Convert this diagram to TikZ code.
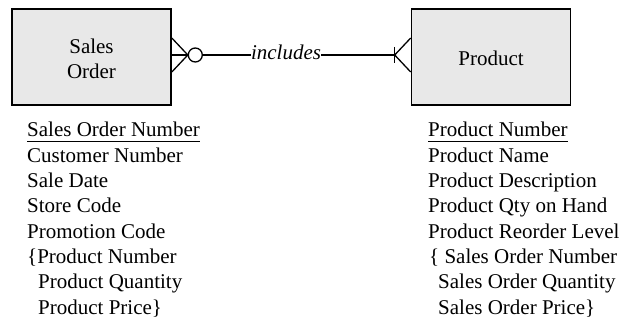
\documentclass[tikz,border=0pt]{standalone}
\usepackage{fontspec}
\setmainfont{Liberation Serif}
\usetikzlibrary{calc}
\begin{document}
\begin{tikzpicture}[x=1pt,y=1pt,
  entity/.style={draw=black,line width=1.6pt,fill=black!9,minimum width=159pt,minimum height=96pt,inner sep=0pt},
  etext/.style={inner sep=0pt,align=center,font=\fontsize{21}{25}\selectfont},
  attr/.style={anchor=base west,inner sep=0pt,font=\fontsize{21}{25.3}\selectfont},
  rel/.style={line width=1.3pt},
  lbl/.style={inner sep=0pt,text height=9pt,text depth=0pt,font=\fontsize{21}{25}\selectfont\itshape}]
\useasboundingbox (0,0) rectangle (623,-320);
% entities
\node[entity] (so) at (91.5,-57) {};
\node[etext] (sot) at ([yshift=-2pt]so.center) {Sales\\Order};
\node[entity] (pr) at (491,-57) {};
\node[etext] (prt) at ([yshift=-1pt]pr.center) {Product};
% relationship label
\node[lbl] (inc) at (286,-55) {includes};
% Sales Order end: crow's foot + zero
\coordinate (s0) at (so.east |- inc.center);
\coordinate (sT) at ($(so.east |- inc.center)+(0,17)$);
\coordinate (sB) at ($(so.east |- inc.center)+(0,-17)$);
\coordinate (sA) at ($(s0)+(16,0)$);
\node[draw,circle,line width=1.3pt,minimum size=14pt,inner sep=0pt,fill=white] (zero) at ($(s0)+(23.5,0)$) {};
\draw[rel] (sT) -- (sA) -- (sB);
\draw[rel] (s0) -- (zero.west);
\draw[rel] (zero.east) -- (inc.west);
% Product end: one bar + crow's foot
\coordinate (p0) at (pr.west |- inc.center);
\coordinate (pT) at ($(p0)+(0,17)$);
\coordinate (pB) at ($(p0)+(0,-17)$);
\coordinate (pA) at ($(p0)+(-16,0)$);
\draw[rel] (inc.east) -- (pA);
\draw[rel] (pT) -- (pA) -- (pB);
\draw[rel] ($(pA)+(0,8)$) -- ($(pA)+(0,-8)$);
% Sales Order attributes
\node[attr] (a1) at (27,-137) {Sales Order Number};
\draw[line width=1.4pt] ([yshift=-4.7pt]a1.base west) -- ([yshift=-4.7pt]a1.base east);
\node[attr] (a2) at (27,-162.3) {Customer Number};
\node[attr] (a3) at (27,-187.6) {Sale Date};
\node[attr] (a4) at (27,-212.9) {Store Code};
\node[attr] (a5) at (27,-238.2) {Promotion Code};
\node[attr] (a6) at (27,-263.5) {\{Product Number};
\node[attr] (a7) at (38,-288.8) {Product Quantity};
\node[attr] (a8) at (38,-314.1) {Product Price\}};
% Product attributes
\node[attr] (b1) at (428,-137) {Product Number};
\draw[line width=1.4pt] ([yshift=-4.7pt]b1.base west) -- ([yshift=-4.7pt]b1.base east);
\node[attr] (b2) at (428,-162.3) {Product Name};
\node[attr] (b3) at (428,-187.6) {Product Description};
\node[attr] (b4) at (428,-212.9) {Product Qty on Hand};
\node[attr] (b5) at (428,-238.2) {Product Reorder Level};
\node[attr] (b6) at (429,-263.5) {\{ Sales Order Number};
\node[attr] (b7) at (438,-288.8) {Sales Order Quantity};
\node[attr] (b8) at (438,-314.1) {Sales Order Price\}};
\end{tikzpicture}
\end{document}
